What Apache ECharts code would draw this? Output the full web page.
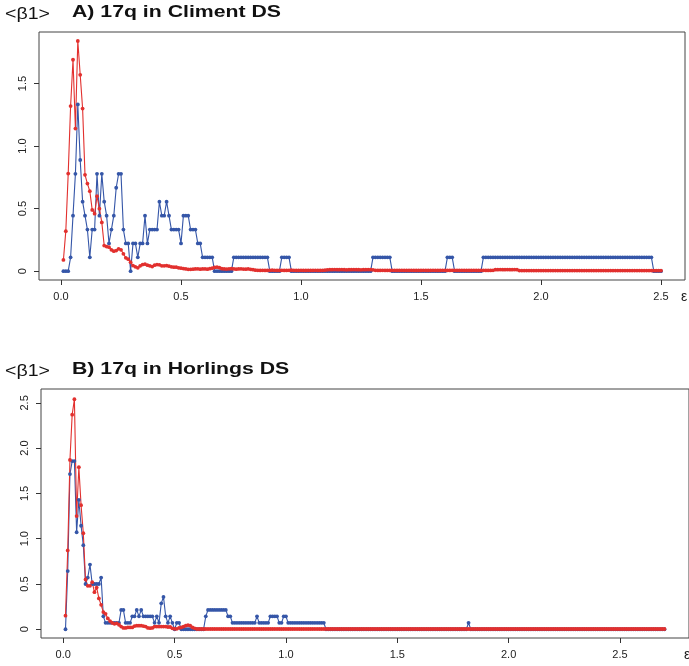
<!DOCTYPE html>
<html>
<head>
<meta charset="utf-8">
<script src="https://cdn.jsdelivr.net/npm/echarts@6/dist/echarts.min.js"></script>
<style>
html,body{margin:0;padding:0;background:#fff;}
#chart{width:689px;height:666px;}
</style>
</head>
<body>
<div id="chart"></div>
<script>
// ---------- DATA ----------
// epsilon grid step (both panels sampled every 0.01 starting at 0.01)
const epsStep = 0.01;

// Panel A: 17q in Climent DS (250 points, eps = 0.01 .. 2.50)
const topBlue = [
 0,0,0,.111,.444,.778,1.333,.889,.556,.444,
 .333,.111,.333,.333,.778,.444,.778,.556,.444,.222,
 .333,.444,.667,.778,.778,.333,.222,.222,0,.222,
 .222,.111,.222,.222,.444,.222,.333,.333,.333,.333,
 .556,.444,.444,.556,.444,.333,.333,.333,.333,.222,
 .444,.444,.444,.333,.333,.333,.222,.222,.111,.111,
 .111,.111,.111,0,0,0,0,0,0,0,
 0,.111,.111,.111,.111,.111,.111,.111,.111,.111,
 .111,.111,.111,.111,.111,.111,0,0,0,0,
 0,.111,.111,.111,.111,0,0,0,0,0,
 0,0,0,0,0,0,0,0,0,0,
 0,0,0,0,0,0,0,0,0,0,
 0,0,0,0,0,0,0,0,0,.111,
 .111,.111,.111,.111,.111,.111,.111,0,0,0,
 0,0,0,0,0,0,0,0,0,0,
 0,0,0,0,0,0,0,0,0,0,
 .111,.111,.111,0,0,0,0,0,0,0,
 0,0,0,0,0,.111,.111,.111,.111,.111,
 .111,.111,.111,.111,.111,.111,.111,.111,.111,.111,
 .111,.111,.111,.111,.111,.111,.111,.111,.111,.111,
 .111,.111,.111,.111,.111,.111,.111,.111,.111,.111,
 .111,.111,.111,.111,.111,.111,.111,.111,.111,.111,
 .111,.111,.111,.111,.111,.111,.111,.111,.111,.111,
 .111,.111,.111,.111,.111,.111,.111,.111,.111,.111,
 .111,.111,.111,.111,.111,.111,0,0,0,0
];
const topRed = [
 .09,.32,.78,1.32,1.69,1.14,1.84,1.57,1.30,.77,
 .70,.64,.49,.46,.60,.50,.39,.205,.197,.192,
 .171,.16,.165,.179,.171,.139,.107,.096,.072,.045,
 .035,.027,.043,.053,.056,.048,.043,.037,.048,.053,
 .051,.043,.043,.045,.040,.035,.032,.032,.027,.024,
 .021,.018,.015,.015,.016,.018,.019,.016,.018,.018,
 .016,.02,.024,.03,.032,.028,.02,.018,.017,.019,
 .02,.018,.016,.018,.019,.017,.016,.018,.015,.012,
 .008,.007,.006,.007,.006,.006,.007,.008,.007,.006,
 .006,.007,.006,.006,.007,.008,.007,.006,.006,.007,
 .006,.006,.007,.006,.006,.007,.006,.006,.007,.008,
 .011,.012,.012,.013,.012,.012,.013,.012,.011,.012,
 .012,.013,.012,.012,.011,.012,.012,.013,.012,.011,
 .007,.006,.006,.007,.006,.006,.006,.007,.006,.006,
 .006,.007,.006,.006,.006,.007,.006,.006,.006,.006,
 .007,.006,.006,.006,.007,.006,.006,.006,.007,.006,
 .006,.006,.007,.006,.006,.006,.007,.006,.006,.006,
 .006,.007,.006,.006,.006,.007,.006,.006,.006,.007,
 .012,.012,.013,.012,.012,.013,.012,.012,.013,.012,
 .005,.005,.005,.005,.005,.005,.005,.005,.005,.005,
 .005,.005,.005,.005,.005,.005,.005,.005,.005,.005,
 .005,.005,.005,.005,.005,.005,.005,.005,.005,.005,
 .005,.005,.005,.005,.005,.005,.005,.005,.005,.005,
 .005,.005,.005,.005,.005,.005,.005,.005,.005,.005,
 .005,.005,.005,.005,.005,.005,.005,.005,.005,.005
];

// Panel B: 17q in Horlings DS (270 points, eps = 0.01 .. 2.70)
const botBlue = [
 0,.643,1.714,1.857,1.857,1.071,1.429,1.143,.929,.5,
 .571,.714,.5,.5,.5,.5,.571,.143,.071,.071,
 .071,.071,.071,.071,.071,.214,.214,.071,.071,.071,
 .143,.143,.214,.143,.214,.143,.143,.143,.143,.143,
 .071,.143,.071,.286,.357,.143,.071,.143,.071,0,
 .071,.071,0,0,0,0,0,0,0,0,
 0,0,0,.143,.214,.214,.214,.214,.214,.214,
 .214,.214,.214,.143,.143,.071,.071,.071,.071,.071,
 .071,.071,.071,.071,.071,.071,.143,.071,.071,.071,
 .071,.071,.143,.143,.143,.143,.071,.071,.143,.143,
 .071,.071,.071,.071,.071,.071,.071,.071,.071,.071,
 .071,.071,.071,.071,.071,.071,.071,0,0,0,
 0,0,0,0,0,0,0,0,0,0,
 0,0,0,0,0,0,0,0,0,0,
 0,0,0,0,0,0,0,0,0,0,
 0,0,0,0,0,0,0,0,0,0,
 0,0,0,0,0,0,0,0,0,0,
 0,0,0,0,0,0,0,0,0,0,
 0,.071,0,0,0,0,0,0,0,0,
 0,0,0,0,0,0,0,0,0,0,
 0,0,0,0,0,0,0,0,0,0,
 0,0,0,0,0,0,0,0,0,0,
 0,0,0,0,0,0,0,0,0,0,
 0,0,0,0,0,0,0,0,0,0,
 0,0,0,0,0,0,0,0,0,0,
 0,0,0,0,0,0,0,0,0,0,
 0,0,0,0,0,0,0,0,0,0
];
const botRed = [
 .15,.87,1.87,2.37,2.54,1.25,1.79,1.37,1.06,.55,
 .48,.48,.52,.41,.46,.34,.27,.19,.17,.12,
 .09,.07,.06,.065,.05,.03,.015,.015,.02,.02,
 .02,.035,.04,.04,.04,.035,.03,.015,.012,.015,
 .03,.03,.03,.03,.03,.03,.025,.025,.01,.005,
 .005,.015,.02,.03,.04,.045,.04,.02,.01,.003,
 .003,.003,.003,.003,.003,.003,.003,.003,.003,.003,
 .003,.003,.003,.003,.003,.003,.003,.003,.003,.003,
 .003,.003,.003,.003,.003,.003,.003,.003,.003,.003,
 .003,.003,.003,.003,.003,.003,.003,.003,.003,.003,
 .003,.003,.003,.003,.003,.003,.003,.003,.003,.003,
 .003,.003,.003,.003,.003,.003,.003,.003,.003,.003,
 .003,.003,.003,.003,.003,.003,.003,.003,.003,.003,
 .003,.003,.003,.003,.003,.003,.003,.003,.003,.003,
 .003,.003,.003,.003,.003,.003,.003,.003,.003,.003,
 .003,.003,.003,.003,.003,.003,.003,.003,.003,.003,
 .003,.003,.003,.003,.003,.003,.003,.003,.003,.003,
 .003,.003,.003,.003,.003,.003,.003,.003,.003,.003,
 .003,.003,.003,.003,.003,.003,.003,.003,.003,.003,
 .003,.003,.003,.003,.003,.003,.003,.003,.003,.003,
 .003,.003,.003,.003,.003,.003,.003,.003,.003,.003,
 .003,.003,.003,.003,.003,.003,.003,.003,.003,.003,
 .003,.003,.003,.003,.003,.003,.003,.003,.003,.003,
 .003,.003,.003,.003,.003,.003,.003,.003,.003,.003,
 .003,.003,.003,.003,.003,.003,.003,.003,.003,.003,
 .003,.003,.003,.003,.003,.003,.003,.003,.003,.003,
 .003,.003,.003,.003,.003,.003,.003,.003,.003,.003
];

// tick values / labels
const xTickVals = [0, 0.5, 1.0, 1.5, 2.0, 2.5];
const xTickLabels = ['0.0', '0.5', '1.0', '1.5', '2.0', '2.5'];
const yTopTickVals = [0, 0.5, 1.0, 1.5];
const yTopTickLabels = ['0', '0.5', '1.0', '1.5'];
const yBotTickVals = [0, 0.5, 1.0, 1.5, 2.0, 2.5];
const yBotTickLabels = ['0', '0.5', '1.0', '1.5', '2.0', '2.5'];

const titleA = 'A) 17q in Climent DS';
const titleB = 'B) 17q in Horlings DS';
const yName = '<β1>';
const xName = 'ε';

// ---------- BUILD ----------
function pairs(vals) {
  return vals.map((v, i) => [Math.round((i + 1) * epsStep * 100) / 100, v]);
}
const RED = '#e2302e';
const BLUE = '#3556a8';
const FONT = '"Liberation Sans", Arial, sans-serif';

function fmt(vals, labels) {
  return function (v) {
    for (let i = 0; i < vals.length; i++) if (Math.abs(vals[i] - v) < 1e-9) return labels[i];
    return '';
  };
}

function xAxisCfg(grid, min, max) {
  return {
    gridIndex: grid, type: 'value', min: min, max: max,
    splitLine: { show: false },
    axisLine: { show: false, onZero: false },
    axisTick: { show: true, length: 5, customValues: xTickVals, lineStyle: { color: '#333', width: 1 } },
    axisLabel: { customValues: xTickVals, formatter: fmt(xTickVals, xTickLabels), margin: 11,
                 fontSize: 11, color: '#222', fontFamily: FONT }
  };
}
function yAxisCfg(grid, min, max, vals, labels) {
  return {
    gridIndex: grid, type: 'value', min: min, max: max,
    splitLine: { show: false },
    axisLine: { show: false, onZero: false },
    axisTick: { show: true, length: 5, customValues: vals, lineStyle: { color: '#333', width: 1 } },
    axisLabel: { customValues: vals, formatter: fmt(vals, labels), margin: 11, rotate: 90,
                 fontSize: 11, color: '#222', fontFamily: FONT }
  };
}
function lineSeries(vals, color, xi, yi) {
  return {
    type: 'line', xAxisIndex: xi, yAxisIndex: yi, data: pairs(vals),
    symbol: 'circle', symbolSize: 3.8, showSymbol: true,
    lineStyle: { color: color, width: 1.1 },
    itemStyle: { color: color },
    emphasis: { disabled: true },
    silent: true, clip: false
  };
}

const chart = echarts.init(document.getElementById('chart'), null, { renderer: 'canvas' });
chart.setOption({
  animation: false,
  backgroundColor: '#ffffff',
  grid: [
    { left: 39, top: 32, width: 646, height: 248, show: true, borderColor: '#444', borderWidth: 1, backgroundColor: 'transparent' },
    { left: 41, top: 389, width: 649, height: 249, show: true, borderColor: '#444', borderWidth: 1, backgroundColor: 'transparent' }
  ],
  xAxis: [ xAxisCfg(0, -0.0917, 2.6), xAxisCfg(1, -0.1, 2.81) ],
  yAxis: [
    yAxisCfg(0, -0.0704, 1.912, yTopTickVals, yTopTickLabels),
    yAxisCfg(1, -0.0965, 2.653, yBotTickVals, yBotTickLabels)
  ],
  series: [
    lineSeries(topBlue, BLUE, 0, 0),
    lineSeries(topRed, RED, 0, 0),
    lineSeries(botBlue, BLUE, 1, 1),
    lineSeries(botRed, RED, 1, 1)
  ],
  graphic: [
    { type: 'text', x: 5, y: 14, scaleX: 1.15, originX: 0, originY: 0,
      style: { text: yName, fontSize: 17, fontFamily: FONT, fill: '#111', verticalAlign: 'middle', align: 'left' } },
    { type: 'text', x: 72, y: 12.5, scaleX: 1.25, originX: 0, originY: 0,
      style: { text: titleA, fontSize: 17, fontWeight: 'bold', fontFamily: FONT, fill: '#111', verticalAlign: 'middle', align: 'left' } },
    { type: 'text', x: 5, y: 371, scaleX: 1.15, originX: 0, originY: 0,
      style: { text: yName, fontSize: 17, fontFamily: FONT, fill: '#111', verticalAlign: 'middle', align: 'left' } },
    { type: 'text', x: 72, y: 369.5, scaleX: 1.25, originX: 0, originY: 0,
      style: { text: titleB, fontSize: 17, fontWeight: 'bold', fontFamily: FONT, fill: '#111', verticalAlign: 'middle', align: 'left' } },
    { type: 'text', x: 684, y: 297,
      style: { text: xName, fontSize: 14, fontFamily: FONT, fill: '#222', verticalAlign: 'middle', align: 'center' } },
    { type: 'text', x: 687, y: 655,
      style: { text: xName, fontSize: 14, fontFamily: FONT, fill: '#222', verticalAlign: 'middle', align: 'center' } }
  ]
});
</script>
</body>
</html>
